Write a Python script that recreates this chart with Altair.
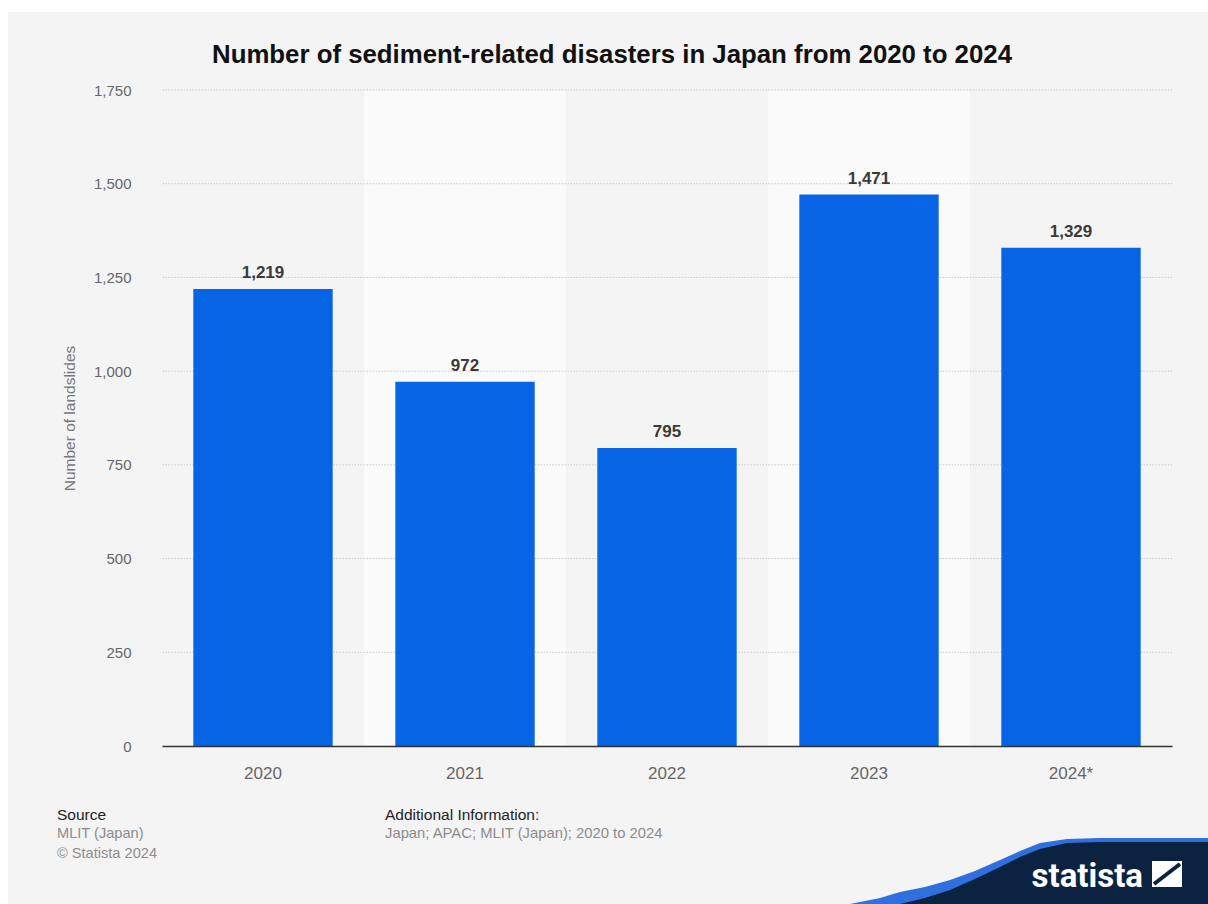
import altair as alt
import pandas as pd

# ---- data ----
years = ["2020", "2021", "2022", "2023", "2024*"]
values = [1219, 972, 795, 1471, 1329]
shaded_years = ["2021", "2023"]
grid_values = [250, 500, 750, 1000, 1250, 1500, 1750]
y_ticks = [0, 250, 500, 750, 1000, 1250, 1500, 1750]

FONT = "Liberation Sans"
W, H = 1010, 656
PAD = {"left": 162, "top": 90, "right": 36, "bottom": 158}

# decorative logo wave shapes (normalised symbol paths)
WAVE_BLUE = ("M-1,0.184 L-0.832,0.151 L-0.721,0.117 L-0.581,0.089 L-0.441,0.050 "
             "L-0.302,0 L-0.162,-0.061 L-0.050,-0.112 L0.061,-0.156 L0.212,-0.179 "
             "L0.397,-0.184 L1,-0.184 L1,0.184 Z")
WAVE_NAVY = ("M-0.721,0.184 L-0.581,0.151 L-0.441,0.106 L-0.302,0.045 L-0.162,-0.022 "
             "L-0.050,-0.078 L0.061,-0.123 L0.212,-0.156 L0.397,-0.162 L1,-0.162 "
             "L1,0.184 Z")

df = pd.DataFrame({"year": years, "value": values})
one = pd.DataFrame({"k": [0]})

xscale = alt.Scale(domain=years, paddingInner=0, paddingOuter=0)
yscale = alt.Scale(domain=[0, 1750], nice=False)

xaxis = alt.Axis(
    title=None, labelAngle=0, labelFontSize=17, labelColor="#666666",
    labelFont=FONT, labelPadding=19, ticks=False, domain=True,
    domainColor="#333333", domainWidth=1.5, grid=False, zindex=1)
yaxis = alt.Axis(
    title="Number of landslides", titleFontSize=15.5, titleFontWeight="normal",
    titleColor="#777777", titleFont=FONT, titlePadding=16,
    values=y_ticks, labelExpr="format(datum.value, ',')", labelFontSize=15,
    labelColor="#666666", labelFont=FONT, labelPadding=31, ticks=False,
    domain=False, grid=False)

bands = alt.Chart(pd.DataFrame({"year": shaded_years})).mark_rect(color="#fafafa").encode(
    x=alt.X("year:N", scale=xscale, axis=xaxis, title=None),
    y=alt.value(0),
    y2=alt.value(H),
)

grid = alt.Chart(pd.DataFrame({"value": grid_values})).mark_rule(
    color="#c8c8c8", strokeDash=[1.5, 1.5], strokeWidth=1
).encode(y=alt.Y("value:Q", scale=yscale, axis=yaxis, title="Number of landslides"))

bars = alt.Chart(df).mark_bar(
    color="#0765e5", width=alt.RelativeBandSize(0.69)
).encode(
    x=alt.X("year:N", scale=xscale, axis=xaxis, title=None),
    y=alt.Y("value:Q", scale=yscale, axis=yaxis, title="Number of landslides"),
)

labels = alt.Chart(df).mark_text(
    baseline="bottom", dy=-7, fontSize=17, fontWeight="bold", color="#3a3a3a", font=FONT
).encode(
    x=alt.X("year:N", scale=xscale, axis=xaxis, title=None),
    y=alt.Y("value:Q", scale=yscale, axis=yaxis, title="Number of landslides"),
    text=alt.Text("value:Q", format=","),
)


def txt(s, x, y, size, color, weight="normal", align="left", baseline="middle", font=FONT):
    return alt.Chart(one).mark_text(
        text=s, fontSize=size, color=color, fontWeight=weight, align=align,
        baseline=baseline, font=font
    ).encode(x=alt.value(x), y=alt.value(y))


def rect(x, x2, y, y2, color):
    return alt.Chart(one).mark_rect(color=color).encode(
        x=alt.value(x), x2=alt.value(x2), y=alt.value(y), y2=alt.value(y2))


def shape(path, x, y, width, color):
    return alt.Chart(one).mark_point(
        shape=path, filled=True, color=color, opacity=1, strokeWidth=0, size=width * width
    ).encode(x=alt.value(x), y=alt.value(y))


margin_left = rect(-162, -154, -90, 814, "white")
margin_top = rect(-162, 1046, -90, -78, "white")

title = txt("Number of sediment-related disasters in Japan from 2020 to 2024",
            450, -35, 25.8, "#111111", weight="bold", align="center")

src1 = txt("Source", -105, 725, 15.5, "#222222")
src2 = txt("MLIT (Japan)", -105, 744, 14.6, "#8c8c8c")
src3 = txt("\u00a9 Statista 2024", -105, 764, 14.6, "#8c8c8c")
add1 = txt("Additional Information:", 223, 725, 15.5, "#222222")
add2 = txt("Japan; APAC; MLIT (Japan); 2020 to 2024", 223, 744, 14.8, "#8c8c8c")

wave_blue = shape(WAVE_BLUE, 867, 781, 358, "#2f6fde")
wave_navy = shape(WAVE_NAVY, 867, 781, 358, "#0b2340")
logo_text = txt("statista", 981, 797, 33, "white", weight="bold", align="right",
                baseline="alphabetic", font="Liberation Sans Narrow, Roboto, Liberation Sans")
icon_box = rect(990, 1020, 771, 797, "white")
icon_line = alt.Chart(one).mark_rule(color="#0b2340", strokeWidth=4).encode(
    x=alt.value(992), x2=alt.value(1018), y=alt.value(794), y2=alt.value(774))

chart = alt.layer(
    bands, grid, bars, labels,
    margin_left, margin_top, title, src1, src2, src3, add1, add2,
    wave_blue, wave_navy, logo_text, icon_box, icon_line
).properties(
    width=W, height=H, padding=PAD,
    autosize=alt.AutoSizeParams(type="none"),
    background="#f4f4f4",
).configure_view(stroke=None)

chart.save("out.html", embed_options={"renderer": "svg", "actions": False})
